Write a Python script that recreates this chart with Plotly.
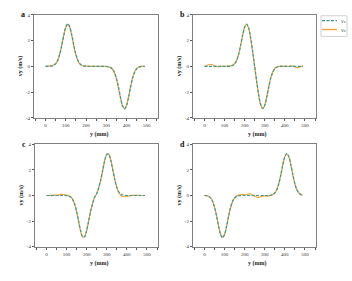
import plotly.graph_objects as go

# ---------------- data ----------------
x_mm = [0, 10, 20, 30, 40, 50, 60, 70, 80, 90,
        100, 110, 120, 130, 140, 150, 160, 170, 180, 190,
        200, 210, 220, 230, 240, 250, 260, 270, 280, 290,
        300, 310, 320, 330, 340, 350, 360, 370, 380, 390,
        400, 410, 420, 430, 440, 450, 460, 470, 480, 490]

a_v1 = [0, 0, 0.01, 0.02, 0.07, 0.19, 0.45, 0.92, 1.61, 2.40,
        3.05, 3.30, 3.05, 2.40, 1.61, 0.92, 0.45, 0.19, 0.07, 0.02,
        0.01, 0, 0, 0, 0, 0, 0, 0, 0, 0,
        -0.01, -0.02, -0.07, -0.19, -0.45, -0.92, -1.61, -2.40, -3.05, -3.30,
        -3.05, -2.40, -1.61, -0.92, -0.45, -0.19, -0.07, -0.02, -0.01, 0]
a_v2 = [0.01, 0.02, 0.03, 0.04, 0.10, 0.22, 0.50, 0.98, 1.66, 2.42,
        3.02, 3.26, 3.00, 2.34, 1.55, 0.88, 0.42, 0.18, 0.07, 0.03,
        0.01, 0.01, 0, -0.01, 0, 0.01, 0, 0, -0.01, -0.01,
        -0.02, -0.04, -0.10, -0.24, -0.52, -1.00, -1.70, -2.48, -3.08, -3.28,
        -2.98, -2.32, -1.54, -0.86, -0.40, -0.16, -0.05, -0.01, 0, 0]

b_v1 = [0, 0, 0, 0, 0, 0, 0, 0, 0, 0,
        0, 0, 0, 0.02, 0.07, 0.19, 0.45, 0.92, 1.61, 2.40,
        3.04, 3.28, 2.98, 2.21, 1.16, 0, -1.16, -2.21, -2.98, -3.28,
        -3.04, -2.40, -1.61, -0.92, -0.45, -0.19, -0.07, -0.02, 0, 0,
        0, 0, 0, 0, 0, 0, 0, 0, 0, 0]
b_v2 = [0, 0.05, 0.12, 0.15, 0.12, 0.05, 0, -0.02, -0.01, 0,
        0, 0.01, 0.02, 0.04, 0.09, 0.22, 0.48, 0.95, 1.64, 2.42,
        3.03, 3.25, 2.93, 2.14, 1.08, -0.08, -1.24, -2.28, -3.02, -3.27,
        -3.00, -2.35, -1.56, -0.88, -0.42, -0.17, -0.06, -0.01, 0.01, 0.02,
        0.01, 0, 0, 0.02, 0.03, -0.04, -0.10, -0.08, -0.02, 0.03]

c_v1 = [0, 0, 0, 0, 0, 0, 0, 0, 0, 0,
        -0.01, -0.04, -0.11, -0.29, -0.65, -1.24, -2.00, -2.76, -3.23, -3.23,
        -2.76, -2.00, -1.23, -0.61, -0.14, 0.14, 0.61, 1.23, 2.00, 2.76,
        3.23, 3.23, 2.76, 2.00, 1.24, 0.65, 0.29, 0.11, 0.04, 0.01,
        0, 0, 0, 0, 0, 0, 0, 0, 0, 0]
c_v2 = [0, 0, 0.01, 0.02, 0.03, 0.04, 0.06, 0.08, 0.09, 0.07,
        0.03, -0.02, -0.10, -0.30, -0.68, -1.28, -2.05, -2.80, -3.24, -3.20,
        -2.72, -1.96, -1.20, -0.58, -0.12, 0.16, 0.60, 1.20, 1.96, 2.72,
        3.20, 3.24, 2.80, 2.05, 1.26, 0.62, 0.22, 0.0, -0.08, -0.10,
        -0.07, -0.04, -0.01, 0.01, 0.02, 0.02, 0.01, 0, 0, 0]

d_v1 = [0, -0.02, -0.07, -0.19, -0.45, -0.92, -1.61, -2.40, -3.05, -3.30,
        -3.05, -2.40, -1.61, -0.92, -0.45, -0.19, -0.07, -0.02, -0.01, 0,
        0, 0, 0, 0, 0, 0, 0, 0, 0, 0,
        0, 0, 0, 0.02, 0.07, 0.19, 0.45, 0.92, 1.61, 2.40,
        3.05, 3.30, 3.05, 2.40, 1.61, 0.92, 0.45, 0.19, 0.07, 0.02]
d_v2 = [0.01, -0.01, -0.06, -0.17, -0.42, -0.88, -1.56, -2.36, -3.02, -3.28,
        -3.06, -2.44, -1.66, -0.96, -0.47, -0.18, -0.04, 0.03, 0.07, 0.08,
        0.05, 0.08, 0.13, 0.12, 0.04, -0.06, -0.13, -0.15, -0.10, -0.05,
        -0.03, -0.05, -0.03, 0.01, 0.07, 0.20, 0.47, 0.95, 1.64, 2.42,
        3.04, 3.27, 3.02, 2.36, 1.58, 0.90, 0.44, 0.18, 0.06, 0.02]

x_ticks = [0, 100, 200, 300, 400, 500]
x_ticktext = ["0", "100", "200", "300", "400", "500"]
y_ticks = [-4, -2, 0, 2, 4]
y_ticktext = ["-4", "-2", "0", "2", "4"]
panel_letters = ["a", "b", "c", "d"]
series_names = ["v\u2081", "v\u2082"]
x_title = "y (mm)"
y_title = "vy (m/s)"

# ---------------- layout helpers ----------------
W, H = 352, 281
TEAL = "#3a9a8c"
ORANGE = "#f2a43a"
AXC = "#808080"
FONT = "DejaVu Serif"
FONT2 = "Liberation Serif"

def px(xp):
    return xp / W

def py(yp):
    return 1 - yp / H

# panel boxes in pixels: (left, right, top, bottom)
boxes = [(34, 158, 13, 118), (193, 316, 13, 118),
         (35, 158, 145, 249), (193, 316, 145, 249)]
data = [(a_v1, a_v2), (b_v1, b_v2), (c_v1, c_v2), (d_v1, d_v2)]

fig = go.Figure()
layout = dict(width=W, height=H, margin=dict(l=0, r=0, t=0, b=0),
              paper_bgcolor="white", plot_bgcolor="white", showlegend=False,
              font=dict(family=FONT2, color="#333"))

annotations = []
shapes = []
for i, ((l, r, t, b), (v1, v2)) in enumerate(zip(boxes, data)):
    n = "" if i == 0 else str(i + 1)
    xa, ya = "x" + n, "y" + n
    fig.add_trace(go.Scatter(x=x_mm, y=v2, mode="lines", xaxis=xa, yaxis=ya,
                             name=series_names[1],
                             line=dict(color=ORANGE, width=1.2, shape="spline", smoothing=0.8)))
    fig.add_trace(go.Scatter(x=x_mm, y=v1, mode="lines", xaxis=xa, yaxis=ya,
                             name=series_names[0],
                             line=dict(color=TEAL, width=1.2, dash="3px,1.5px", shape="spline", smoothing=0.8)))
    layout["xaxis" + n] = dict(domain=[px(l), px(r)], range=[-57, 555], anchor=ya,
                               tickvals=x_ticks, ticktext=x_ticktext,
                               ticks="outside", ticklen=2, tickcolor="#555",
                               minor=dict(dtick=50, ticks="outside", ticklen=2, tickcolor="#555"),
                               tickfont=dict(size=5, family=FONT2, color="#333"),
                               showline=True, linecolor=AXC, linewidth=1, mirror=True,
                               showgrid=False, zeroline=False)
    layout["yaxis" + n] = dict(domain=[py(b), py(t)], range=[-4, 4], anchor=xa,
                               tickvals=y_ticks, ticktext=y_ticktext,
                               ticks="outside", ticklen=2, tickcolor="#555",
                               tickfont=dict(size=5, family=FONT2, color="#333"),
                               showline=True, linecolor=AXC, linewidth=1, mirror=True,
                               showgrid=False, zeroline=False)
    annotations.append(dict(x=px(l - 11), y=py(t), xref="paper", yref="paper",
                            text="<b>%s</b>" % panel_letters[i], showarrow=False,
                            xanchor="center", yanchor="middle",
                            font=dict(size=8, family=FONT2, color="#111")))
    annotations.append(dict(x=px((l + r) / 2 + 3), y=py(b + 17), xref="paper", yref="paper",
                            text="<b>%s</b>" % x_title, showarrow=False,
                            xanchor="center", yanchor="middle",
                            font=dict(size=6, family=FONT2, color="#222")))
    annotations.append(dict(x=px(l - 14), y=py((t + b) / 2), xref="paper", yref="paper",
                            text="<b>%s</b>" % y_title, showarrow=False, textangle=-90,
                            xanchor="center", yanchor="middle",
                            font=dict(size=6, family=FONT2, color="#222")))

# legend (drawn with shapes and text)
shapes.append(dict(type="rect", xref="paper", yref="paper",
                   x0=px(321), x1=px(347), y0=py(35), y1=py(14),
                   line=dict(color="#d0d0d0", width=1), fillcolor="white"))
legend_items = [(series_names[0], TEAL, "3px,1.5px", 19), (series_names[1], ORANGE, "solid", 28)]
for name, col, dash, yy in legend_items:
    shapes.append(dict(type="line", xref="paper", yref="paper",
                       x0=px(322), x1=px(337), y0=py(yy), y1=py(yy),
                       line=dict(color=col, width=1.4, dash=dash)))
    annotations.append(dict(x=px(338), y=py(yy), xref="paper", yref="paper",
                            text=name, showarrow=False, xanchor="left", yanchor="middle",
                            font=dict(size=5, family=FONT, color="#333")))

layout["annotations"] = annotations
layout["shapes"] = shapes
fig.update_layout(**layout)
fig.write_html("out.html",
               config={"displayModeBar": False, "staticPlot": True},
               post_script="document.body.style.margin='0px';document.body.style.overflow='hidden';")
